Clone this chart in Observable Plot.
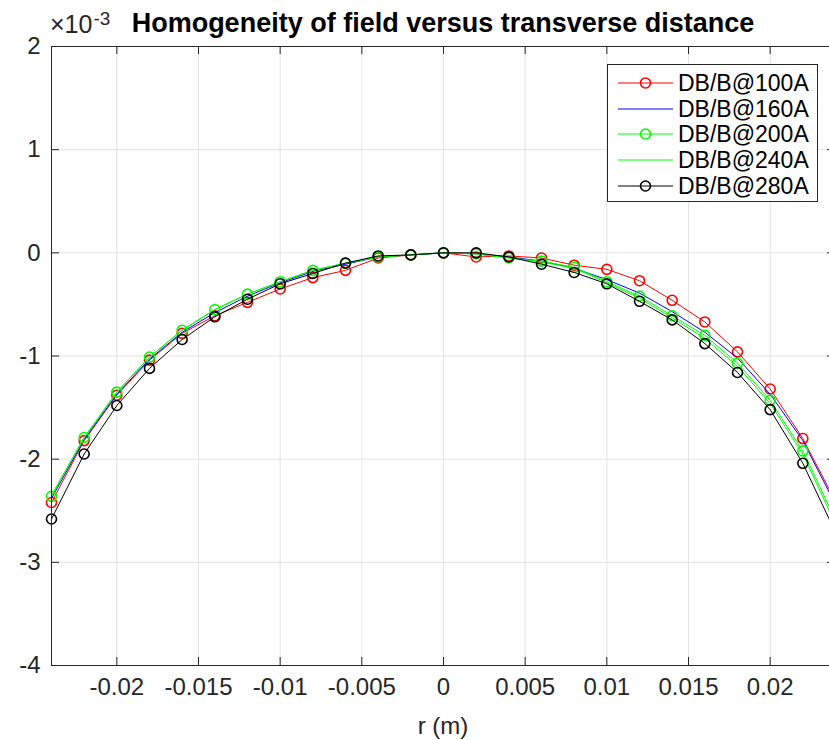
<!DOCTYPE html>
<html>
<head>
<meta charset="utf-8">
<script src="https://cdn.jsdelivr.net/npm/d3@7"></script>
<script src="https://cdn.jsdelivr.net/npm/@observablehq/plot@0.6"></script>
<style>
  html, body { margin: 0; padding: 0; background: #fff; overflow: hidden; width: 829px; height: 740px; }
  #wrap { position: relative; width: 829px; height: 740px; overflow: hidden; font-family: "Liberation Sans", Arial, Helvetica, sans-serif; }
  #chart { position: absolute; left: 0; top: 0; width: 836px; height: 740px; }
  #chart svg { max-width: none !important; width: 836px; height: 740px; }
  #legend { position: absolute; left: 607px; top: 64px; width: 209px; height: 136px; border: 1px solid #262626; background: #fff; box-sizing: content-box; }
  .lrow { position: absolute; left: 0; height: 26px; width: 209px; }
  .lrow svg { position: absolute; left: 0; top: 0; }
  .lrow span { position: absolute; left: 70px; top: 0; font-size: 23px; line-height: 26px; color: #000; white-space: nowrap; }
</style>
</head>
<body>
<div id="wrap">
  <div id="chart"></div>
  <div id="legend"></div>
</div>
<script>
// ---- data (values in units of 10^-3) ----
const r = [-0.024, -0.022, -0.020, -0.018, -0.016, -0.014, -0.012, -0.010, -0.008, -0.006, -0.004, -0.002, 0,
           0.002, 0.004, 0.006, 0.008, 0.010, 0.012, 0.014, 0.016, 0.018, 0.020, 0.022, 0.024];
const db100 = [-2.42, -1.82, -1.38, -1.04, -0.78, -0.61, -0.48, -0.35, -0.24, -0.17, -0.05, -0.02, 0,
               -0.04, -0.03, -0.05, -0.12, -0.16, -0.27, -0.46, -0.67, -0.96, -1.32, -1.80, -2.41];
const db160 = [-2.38, -1.81, -1.37, -1.03, -0.77, -0.58, -0.42, -0.29, -0.18, -0.11, -0.04, -0.02, 0,
               -0.01, -0.04, -0.08, -0.15, -0.26, -0.39, -0.57, -0.77, -1.02, -1.37, -1.82, -2.44];
const db200 = [-2.36, -1.79, -1.35, -1.01, -0.75, -0.55, -0.40, -0.28, -0.17, -0.10, -0.04, -0.02, 0,
               -0.01, -0.05, -0.08, -0.14, -0.28, -0.42, -0.61, -0.80, -1.07, -1.43, -1.92, -2.59];
const db240 = [-2.35, -1.79, -1.35, -1.01, -0.75, -0.55, -0.40, -0.28, -0.17, -0.10, -0.04, -0.02, 0,
               -0.01, -0.05, -0.09, -0.15, -0.29, -0.44, -0.63, -0.83, -1.10, -1.46, -1.95, -2.63];
const db280 = [-2.58, -1.95, -1.48, -1.12, -0.84, -0.62, -0.45, -0.30, -0.20, -0.10, -0.03, -0.02, 0,
               0.00, -0.04, -0.11, -0.19, -0.30, -0.47, -0.65, -0.88, -1.16, -1.52, -2.04, -2.71];

const seriesNames = ["DB/B@100A", "DB/B@160A", "DB/B@200A", "DB/B@240A", "DB/B@280A"];
const seriesColors = ["#ff0000", "#0000ff", "#00ff00", "#00ff00", "#000000"];
const seriesMarkers = [true, false, true, false, true];
const seriesValues = [db100, db160, db200, db240, db280];

const xTicks = [-0.02, -0.015, -0.01, -0.005, 0, 0.005, 0.01, 0.015, 0.02];
const yTicks = [-4, -3, -2, -1, 0, 1, 2];
const xDomain = [-0.024, 0.024];
const yDomain = [-4, 2];

const titleText = "Homogeneity of field versus transverse distance";
const xLabelText = "r (m)";
const expBase = "\u00d710";
const expPower = "-3";

// ---- layout ----
const W = 836, H = 740;
const mL = 51, mR = 1, mT = 46, mB = 75;
const frameW = W - mL - mR, frameH = H - mT - mB;
const tickLen = 8;
const axisColor = "#262626";
const gridColor = "#e3e3e3";
const tickFont = "24px";

const marks = [
  Plot.ruleX(xTicks, {x: d => d, stroke: gridColor, strokeWidth: 1}),
  Plot.ruleY(yTicks, {y: d => d, stroke: gridColor, strokeWidth: 1})
];
seriesValues.forEach((vals, i) => {
  const rows = r.map((x, j) => ({x, y: vals[j]}));
  marks.push(Plot.line(rows, {x: "x", y: "y", stroke: seriesColors[i], strokeWidth: 1}));
  if (seriesMarkers[i]) {
    marks.push(Plot.dot(rows, {x: "x", y: "y", r: 5, stroke: seriesColors[i], strokeWidth: 1.6, fill: "none"}));
  }
});
marks.push(
  Plot.frame({stroke: axisColor, strokeWidth: 1}),
  Plot.ruleX(xTicks, {x: d => d, stroke: axisColor, insetTop: frameH - tickLen}),
  Plot.ruleX(xTicks, {x: d => d, stroke: axisColor, insetBottom: frameH - tickLen}),
  Plot.ruleY(yTicks, {y: d => d, stroke: axisColor, insetRight: frameW - tickLen}),
  Plot.ruleY(yTicks, {y: d => d, stroke: axisColor, insetLeft: frameW - tickLen}),
  Plot.axisX(xTicks, {anchor: "bottom", tickSize: 0, tickPadding: 12, tickFormat: d => String(d), fontSize: 24, color: axisColor, label: null}),
  Plot.axisY(yTicks, {anchor: "left", tickSize: 0, tickPadding: 11, tickFormat: d => String(d), fontSize: 24, color: axisColor, label: null})
);

const chart = Plot.plot({
  width: W, height: H,
  marginLeft: mL, marginRight: mR, marginTop: mT, marginBottom: mB,
  x: {domain: xDomain},
  y: {domain: yDomain},
  style: {fontFamily: '"Liberation Sans", Arial, Helvetica, sans-serif', background: "#fff", color: axisColor, overflow: "visible", maxWidth: "none"},
  marks
});
document.getElementById("chart").appendChild(chart);

const svg = d3.select(chart);
svg.selectAll('g[aria-label="x-axis tick label"] text, g[aria-label="y-axis tick label"] text')
  .style("font-size", tickFont);

const cx = mL + frameW / 2;
svg.append("text")
  .attr("x", cx).attr("y", 32)
  .attr("text-anchor", "middle")
  .style("font-size", "27px").style("font-weight", "bold").style("fill", "#000")
  .text(titleText);
svg.append("text")
  .attr("x", cx).attr("y", 734)
  .attr("text-anchor", "middle")
  .style("font-size", tickFont).style("fill", axisColor)
  .text(xLabelText);
const ex = svg.append("text").attr("x", 50).attr("y", 33)
  .attr("text-anchor", "start")
  .style("font-size", "25px").style("fill", axisColor);
ex.append("tspan").style("font-size", "25px").text(expBase);
ex.append("tspan").attr("dx", 1).attr("dy", -8).style("font-size", "19px").text(expPower);

// ---- legend ----
const legend = document.getElementById("legend");
const rowTops = [5, 31, 56, 82, 108];
seriesNames.forEach((name, i) => {
  const row = document.createElement("div");
  row.className = "lrow";
  row.style.top = rowTops[i] + "px";
  const ns = "http://www.w3.org/2000/svg";
  const s = document.createElementNS(ns, "svg");
  s.setAttribute("width", 70); s.setAttribute("height", 26);
  const ln = document.createElementNS(ns, "line");
  ln.setAttribute("x1", 10); ln.setAttribute("x2", 65);
  ln.setAttribute("y1", 13); ln.setAttribute("y2", 13);
  ln.setAttribute("stroke", seriesColors[i]); ln.setAttribute("stroke-width", 1);
  s.appendChild(ln);
  if (seriesMarkers[i]) {
    const c = document.createElementNS(ns, "circle");
    c.setAttribute("cx", 37.5); c.setAttribute("cy", 13); c.setAttribute("r", 5);
    c.setAttribute("fill", "none"); c.setAttribute("stroke", seriesColors[i]); c.setAttribute("stroke-width", 1.6);
    s.appendChild(c);
  }
  row.appendChild(s);
  const t = document.createElement("span");
  t.textContent = name;
  row.appendChild(t);
  legend.appendChild(row);
});
</script>
</body>
</html>
